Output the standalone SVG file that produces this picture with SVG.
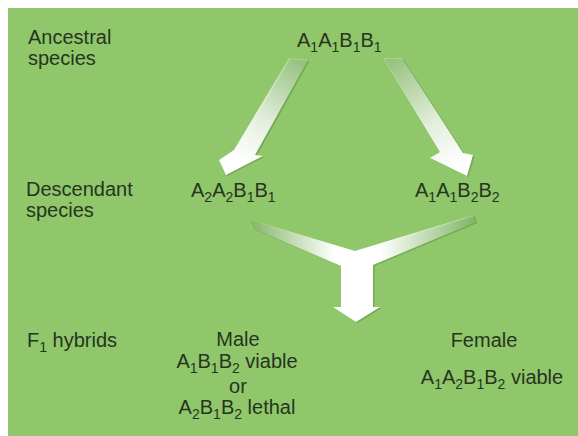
<svg xmlns="http://www.w3.org/2000/svg" width="578" height="436" viewBox="0 0 578 436">
  <defs>
    <linearGradient id="gL" gradientUnits="userSpaceOnUse" x1="298" y1="58" x2="240" y2="160">
      <stop offset="0" stop-color="#ffffff" stop-opacity="0.25"/>
      <stop offset="0.6" stop-color="#ffffff" stop-opacity="0.8"/>
      <stop offset="1" stop-color="#ffffff" stop-opacity="1"/>
    </linearGradient>
    <linearGradient id="gR" gradientUnits="userSpaceOnUse" x1="392" y1="58" x2="460" y2="165">
      <stop offset="0" stop-color="#ffffff" stop-opacity="0.25"/>
      <stop offset="0.6" stop-color="#ffffff" stop-opacity="0.8"/>
      <stop offset="1" stop-color="#ffffff" stop-opacity="1"/>
    </linearGradient>
    <linearGradient id="gY" gradientUnits="userSpaceOnUse" x1="248" y1="0" x2="476" y2="0">
      <stop offset="0" stop-color="#ffffff" stop-opacity="0.1"/>
      <stop offset="0.38" stop-color="#ffffff" stop-opacity="1"/>
      <stop offset="0.58" stop-color="#ffffff" stop-opacity="1"/>
      <stop offset="1" stop-color="#ffffff" stop-opacity="0.1"/>
    </linearGradient>
  </defs>
  <style>
    text { font-family: "Liberation Sans", Arial, sans-serif; font-size: 20px; fill: #27341f; }
    .sub { font-size: 14px; }
    .shadow { fill: #4f8a35; opacity: 0.45; }
  </style>
  <rect x="0" y="0" width="578" height="436" fill="#ffffff"/>
  <rect x="8" y="8" width="570" height="428" fill="#8fc76a"/>

  <g id="connectors">
    <g id="arrow-left">
      <polygon class="shadow" transform="translate(1.5,1)" points="289,58 308,60 255,155 263,156 226,175 219,160 234,150"/>
      <polygon fill="url(#gL)" points="289,58 308,60 255,155 263,156 226,175 219,160 234,150"/>
    </g>
    <g id="arrow-right">
      <polygon class="shadow" transform="translate(1.5,1)" points="383,58 402,58 463,153 473,155 467,176 430,158 440,152"/>
      <polygon fill="url(#gR)" points="383,58 402,58 463,153 473,155 467,176 430,158 440,152"/>
    </g>
    <g id="arrow-merge">
      <polygon class="shadow" transform="translate(1.5,1)" points="248,219 355,251 473,215 476,222 373,265 373,307 380,307 356,322 333,307 341,307 341,266 252,228"/>
      <polygon fill="url(#gY)" points="248,219 355,251 473,215 476,222 373,265 373,307 380,307 356,322 333,307 341,307 341,266 252,228"/>
    </g>
  </g>

  <g id="label-ancestral">
    <text x="28" y="44">Ancestral</text>
    <text x="28" y="65">species</text>
  </g>
  <g id="label-descendant">
    <text x="26" y="196">Descendant</text>
    <text x="26" y="217">species</text>
  </g>
  <g id="label-f1">
    <text x="27" y="347">F<tspan class="sub" dy="5">1</tspan><tspan dy="-5"> hybrids</tspan></text>
  </g>

  <g id="node-ancestral">
    <text x="297" y="47">A<tspan class="sub" dy="5">1</tspan><tspan dy="-5">A</tspan><tspan class="sub" dy="5">1</tspan><tspan dy="-5">B</tspan><tspan class="sub" dy="5">1</tspan><tspan dy="-5">B</tspan><tspan class="sub" dy="5">1</tspan></text>
  </g>
  <g id="node-desc-left">
    <text x="191" y="197">A<tspan class="sub" dy="5">2</tspan><tspan dy="-5">A</tspan><tspan class="sub" dy="5">2</tspan><tspan dy="-5">B</tspan><tspan class="sub" dy="5">1</tspan><tspan dy="-5">B</tspan><tspan class="sub" dy="5">1</tspan></text>
  </g>
  <g id="node-desc-right">
    <text x="415" y="197">A<tspan class="sub" dy="5">1</tspan><tspan dy="-5">A</tspan><tspan class="sub" dy="5">1</tspan><tspan dy="-5">B</tspan><tspan class="sub" dy="5">2</tspan><tspan dy="-5">B</tspan><tspan class="sub" dy="5">2</tspan></text>
  </g>
  <g id="node-male">
    <text x="238" y="346" text-anchor="middle">Male</text>
    <text x="237" y="368" text-anchor="middle">A<tspan class="sub" dy="5">1</tspan><tspan dy="-5">B</tspan><tspan class="sub" dy="5">1</tspan><tspan dy="-5">B</tspan><tspan class="sub" dy="5">2</tspan><tspan dy="-5"> viable</tspan></text>
    <text x="238" y="393" text-anchor="middle">or</text>
    <text x="237" y="414" text-anchor="middle">A<tspan class="sub" dy="5">2</tspan><tspan dy="-5">B</tspan><tspan class="sub" dy="5">1</tspan><tspan dy="-5">B</tspan><tspan class="sub" dy="5">2</tspan><tspan dy="-5"> lethal</tspan></text>
  </g>
  <g id="node-female">
    <text x="484" y="347" text-anchor="middle">Female</text>
    <text x="492" y="384" text-anchor="middle">A<tspan class="sub" dy="5">1</tspan><tspan dy="-5">A</tspan><tspan class="sub" dy="5">2</tspan><tspan dy="-5">B</tspan><tspan class="sub" dy="5">1</tspan><tspan dy="-5">B</tspan><tspan class="sub" dy="5">2</tspan><tspan dy="-5"> viable</tspan></text>
  </g>
</svg>
